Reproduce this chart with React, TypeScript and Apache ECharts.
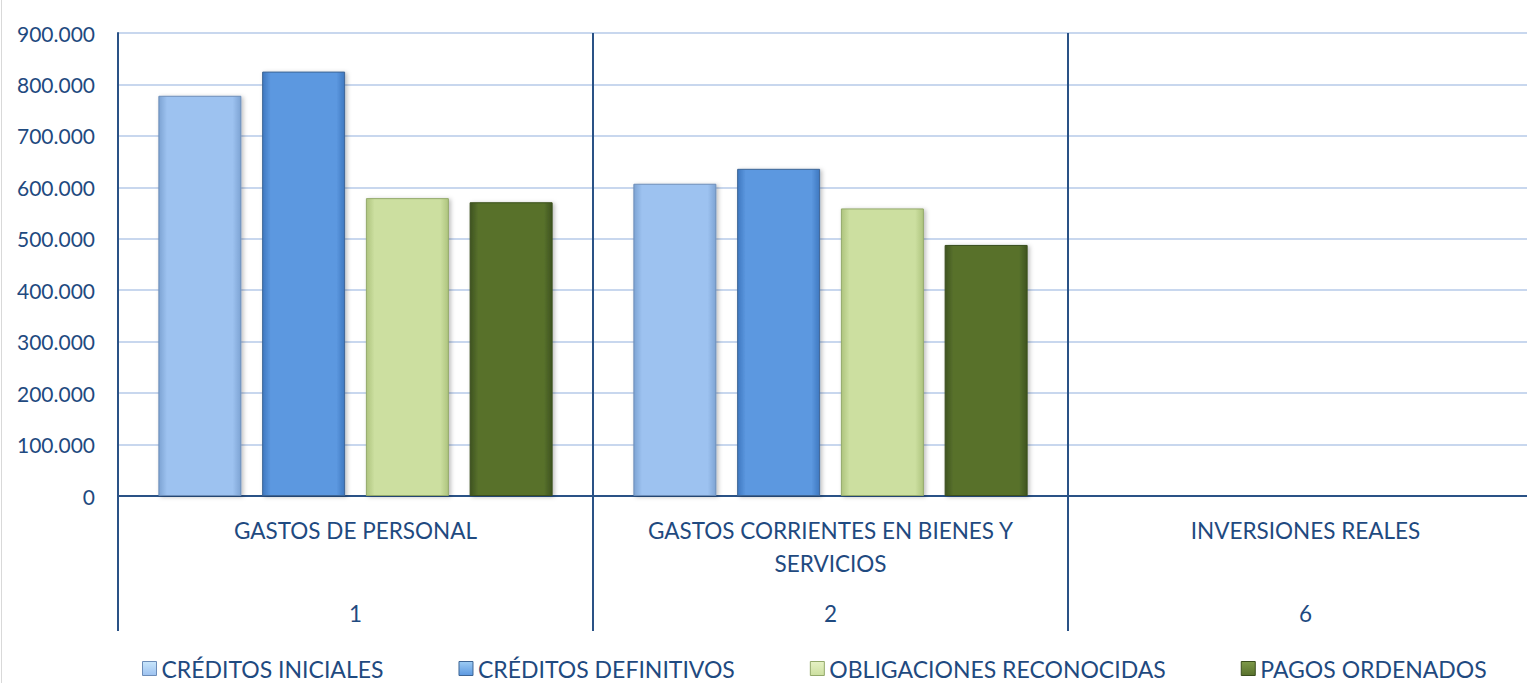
import React, { useEffect, useRef } from "react";
import * as echarts from "echarts";

const categories = [
  "GASTOS DE PERSONAL",
  "GASTOS CORRIENTES EN BIENES Y\nSERVICIOS",
  "INVERSIONES REALES",
];
const codes = ["1", "2", "6"];
const seriesNames = [
  "CRÉDITOS INICIALES",
  "CRÉDITOS DEFINITIVOS",
  "OBLIGACIONES RECONOCIDAS",
  "PAGOS ORDENADOS",
];
const creditosIniciales = [778000, 607000, 0];
const creditosDefinitivos = [825000, 636000, 0];
const obligacionesReconocidas = [579000, 559000, 0];
const pagosOrdenados = [571000, 488000, 0];

const TEXT = "#1F4A80";
const AXIS = "#2A5286";
const FONT = "Lato, 'Noto Sans', sans-serif";

const palettes = [
  { edge: "#7DA3D3", main: "#9DC2F0", light: "#C9E6FB", border: "#6C8DB8" },
  { edge: "#3F78C0", main: "#5C98E0", light: "#9CCBF4", border: "#3E6595" },
  { edge: "#AEC47E", main: "#CCDFA0", light: "#E6F2C4", border: "#93A96A" },
  { edge: "#3E5320", main: "#58712C", light: "#7E9A4A", border: "#3A4E1D" },
];

function fmt(v: number): string {
  return String(v).replace(/\B(?=(\d{3})+(?!\d))/g, ".");
}

export default function App() {
  const ref = useRef<HTMLDivElement>(null);
  useEffect(() => {
    if (!ref.current) return;
    const chart = echarts.init(ref.current, null, { renderer: "svg" });
    const values = [creditosIniciales, creditosDefinitivos, obligacionesReconocidas, pagosOrdenados];
    const series = values.map((data, i) => {
      const p = palettes[i];
      return {
        name: seriesNames[i],
        type: "bar",
        xAxisIndex: 0,
        data,
        barWidth: 83,
        barGap: "25%",
        itemStyle: {
          color: new echarts.graphic.LinearGradient(0, 0, 1, 0, [
            { offset: 0, color: p.edge },
            { offset: 0.1, color: p.main },
            { offset: 0.9, color: p.main },
            { offset: 1, color: p.edge },
          ]),
          borderColor: p.border,
          borderWidth: 1,
          shadowColor: "rgba(0,0,0,0.25)",
          shadowBlur: 4,
          shadowOffsetX: 2,
          shadowOffsetY: 1,
        },
      };
    });
    chart.setOption({
      animation: false,
      textStyle: { fontFamily: FONT, color: TEXT },
      grid: { left: 118, top: 33, right: 0, bottom: 187, containLabel: false },
      legend: {
        data: seriesNames.map((n, i) => ({
          name: n,
          itemStyle: {
            color: new echarts.graphic.LinearGradient(0, 0, 0, 1, [
              { offset: 0, color: palettes[i].light },
              { offset: 1, color: palettes[i].main },
            ]),
            borderColor: palettes[i].border,
            borderWidth: 1,
          },
        })),
        left: 142,
        top: 657,
        padding: 0,
        icon: "rect",
        itemWidth: 14,
        itemHeight: 14,
        itemGap: 75,
        textStyle: { fontFamily: FONT, fontSize: 23, lineHeight: 23, color: TEXT },
      },
      xAxis: [
        {
          type: "category",
          data: categories,
          axisLine: { show: true, lineStyle: { color: AXIS, width: 2 } },
          axisTick: { show: true, interval: 0, length: 135, lineStyle: { color: AXIS, width: 2 } },
          splitLine: { show: true, interval: 0, lineStyle: { color: AXIS, width: 2 } },
          axisLabel: {
            interval: 0,
            margin: 18,
            fontFamily: FONT,
            fontSize: 22.5,
            lineHeight: 33,
            color: TEXT,
          },
        },
        {
          type: "category",
          data: codes,
          position: "bottom",
          axisLine: { show: false },
          axisTick: { show: false },
          splitLine: { show: false },
          axisLabel: {
            interval: 0,
            margin: 105,
            fontFamily: FONT,
            fontSize: 22.5,
            lineHeight: 24,
            color: TEXT,
          },
        },
      ],
      yAxis: {
        type: "value",
        min: 0,
        max: 900000,
        interval: 100000,
        axisLine: { show: true, lineStyle: { color: AXIS, width: 2 } },
        axisTick: { show: false },
        splitLine: { show: true, lineStyle: { color: "#C8D7EE", width: 2 } },
        axisLabel: {
          margin: 23,
          fontFamily: FONT,
          fontSize: 21,
          color: TEXT,
          formatter: (v: number) => fmt(v),
        },
      },
      graphic: [
        {
          type: "line",
          shape: { x1: 1.5, y1: 0, x2: 1.5, y2: 683 },
          style: { stroke: "#D9D9D9", lineWidth: 1 },
        },
      ],
      series,
    });
    return () => chart.dispose();
  }, []);
  return (
    <div style={{ position: "absolute", left: 0, top: 0, width: 1527, height: 683, overflow: "hidden", background: "#fff" }}>
      <div ref={ref} style={{ width: 1543, height: 683 }} />
    </div>
  );
}
